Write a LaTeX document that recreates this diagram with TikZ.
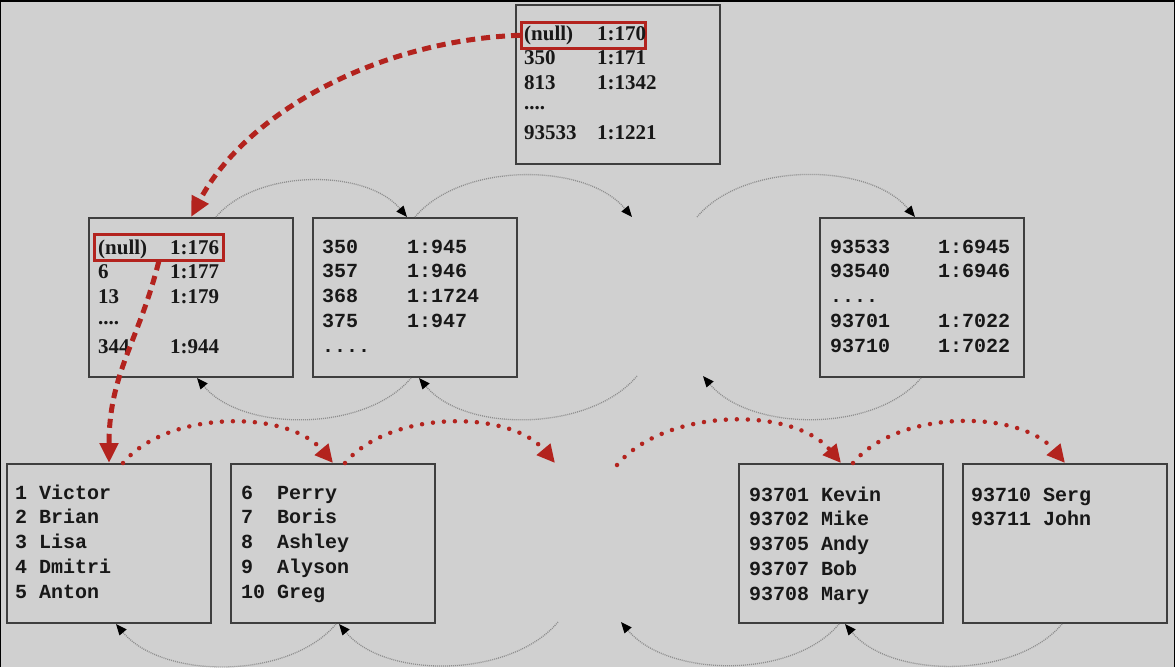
\documentclass[tikz,border=0pt]{standalone}
\usepackage{fontspec}
\setmainfont{Liberation Serif}
\setmonofont{Liberation Mono}
\usepackage{array}
\usetikzlibrary{calc,arrows.meta}
\definecolor{bg}{HTML}{D0D0D0}
\definecolor{frame}{HTML}{3E3E3E}
\definecolor{ink}{HTML}{181818}
\definecolor{hot}{HTML}{B3231E}
\definecolor{link}{HTML}{8E8E8E}
\tikzset{
  box/.style={draw=frame, line width=2pt, minimum width=204pt, minimum height=159pt, anchor=north west, inner sep=0pt},
  hlbox/.style={draw=hot, line width=2.5pt, minimum height=26pt, anchor=north west, inner sep=0pt},
  srf/.style={text=ink, font=\fontsize{21}{24.8}\selectfont\bfseries, inner sep=0pt, anchor=base west},
  mon/.style={text=ink, font=\fontsize{20}{24.8}\selectfont\ttfamily\bfseries, inner sep=0pt, anchor=base west},
  ptr/.style={draw=link, line width=1.3pt, dash pattern=on 1pt off 1pt, -{Triangle[length=11pt,width=9pt,color=black]}},
  hotdash/.style={draw=hot, line width=5pt, dash pattern=on 9pt off 6pt, -{Triangle[length=20pt,width=18pt]}},
  hotdot/.style={draw=hot, line width=4.5pt, line cap=round, dash pattern=on 0pt off 11pt, -{Triangle[length=18pt,width=17pt]}}
}

\begin{document}
\begin{tikzpicture}[x=1pt,y=-1pt]
  \useasboundingbox (0,0) rectangle (1175,667);
  \fill[black] (0,0) rectangle (1175,667);
  \fill[bg] (1,2) rectangle (1174,667);

  % root page
  \node[box] (root) at (515,4) {};
  \node[hlbox, minimum width=124pt] (rootHl) at (520,21) {};
  \node[srf] (rootT) at (524,40) {\begin{tabular}[t]{@{}p{73pt}@{}l@{}}
    (null) & 1:170\\ 350 & 1:171\\ 813 & 1:1342\\ \raisebox{5pt}{....} & \\ 93533 & 1:1221
  \end{tabular}};

  % branch pages
  \node[box] (n1) at (88,217) {};
  \node[box] (n2) at (312,217) {};
  \node[box] (n3) at (819,217) {};
  \node[hlbox, minimum width=129pt] (n1Hl) at (93,233) {};
  \node[srf] (n1T) at (98,254) {\begin{tabular}[t]{@{}p{72pt}@{}l@{}}
    (null) & 1:176\\ 6 & 1:177\\ 13 & 1:179\\ \raisebox{4pt}{....} & \\ 344 & 1:944
  \end{tabular}};
  \node[mon] (n2T) at (322,253) {\begin{tabular}[t]{@{}p{85pt}@{}l@{}}
    350 & 1:945\\ 357 & 1:946\\ 368 & 1:1724\\ 375 & 1:947\\ .... &
  \end{tabular}};
  \node[mon] (n3T) at (830,253) {\begin{tabular}[t]{@{}p{108pt}@{}l@{}}
    93533 & 1:6945\\ 93540 & 1:6946\\ .... & \\ 93701 & 1:7022\\ 93710 & 1:7022
  \end{tabular}};

  % leaf pages
  \node[box] (b1) at (6,463) {};
  \node[box] (b2) at (230,463) {};
  \node[box] (b3) at (738,463) {};
  \node[box] (b4) at (962,463) {};
  \node[mon] (b1T) at (15,499) {\begin{tabular}[t]{@{}p{24pt}@{}l@{}}
    1 & Victor\\ 2 & Brian\\ 3 & Lisa\\ 4 & Dmitri\\ 5 & Anton
  \end{tabular}};
  \node[mon] (b2T) at (241,499) {\begin{tabular}[t]{@{}p{36pt}@{}l@{}}
    6 & Perry\\ 7 & Boris\\ 8 & Ashley\\ 9 & Alyson\\ 10 & Greg
  \end{tabular}};
  \node[mon] (b3T) at (749,501) {\begin{tabular}[t]{@{}p{72pt}@{}l@{}}
    93701 & Kevin\\ 93702 & Mike\\ 93705 & Andy\\ 93707 & Bob\\ 93708 & Mary
  \end{tabular}};
  \node[mon] (b4T) at (971,501) {\begin{tabular}[t]{@{}p{72pt}@{}l@{}}
    93710 & Serg\\ 93711 & John
  \end{tabular}};

  % open ends between the pages shown
  \coordinate (gapA) at (632,217);
  \coordinate (gapB) at (697,217);
  \coordinate (gapC) at (637,376);
  \coordinate (gapD) at (703,376);
  \coordinate (gapE) at (555,463);
  \coordinate (gapF) at (617,465);
  \coordinate (gapG) at (558,622);
  \coordinate (gapH) at (621,622);

  % sibling links
  \draw[ptr] ([xshift=25pt]n1.north) to[out=50,in=130,looseness=0.85] ([xshift=-8pt]n2.north);
  \draw[ptr] (n2.north) to[out=50,in=130,looseness=0.85] (gapA);
  \draw[ptr] (gapB) to[out=50,in=130,looseness=0.85] ([xshift=-7pt]n3.north);
  \draw[ptr] ([xshift=-4pt]n2.south) to[out=-130,in=-50,looseness=0.85] ([xshift=6pt]n1.south);
  \draw[ptr] (gapC) to[out=-130,in=-50,looseness=0.85] ([xshift=4pt]n2.south);
  \draw[ptr] ([xshift=-1pt]n3.south) to[out=-130,in=-50,looseness=0.85] (gapD);
  \draw[ptr] ([xshift=3pt]b2.south) to[out=-130,in=-50,looseness=0.85] ([xshift=7pt]b1.south);
  \draw[ptr] (gapG) to[out=-130,in=-50,looseness=0.85] ([xshift=6pt]b2.south);
  \draw[ptr] ([xshift=-2pt]b3.south) to[out=-130,in=-50,looseness=0.85] (gapH);
  \draw[ptr] ([xshift=-3pt]b4.south) to[out=-130,in=-50,looseness=0.85] ([xshift=4pt]b3.south);

  % search path
  \draw[hotdash] (rootHl.west) .. controls +(-140,5) and +(55,-105) .. (n1.north);
  \draw[hotdash] (n1Hl.south) .. controls +(-20,80) and +(0,-90) .. (b1.north);
  \draw[hotdot] ([xshift=14pt]b1.north) to[out=50,in=130,looseness=0.85] (b2.north);
  \draw[hotdot] ([xshift=12pt]b2.north) to[out=50,in=130,looseness=0.85] (gapE);
  \draw[hotdot] (gapF) to[out=50,in=130,looseness=0.85] (b3.north);
  \draw[hotdot] ([xshift=12pt]b3.north) to[out=50,in=130,looseness=0.85] (b4.north);
\end{tikzpicture}
\end{document}
